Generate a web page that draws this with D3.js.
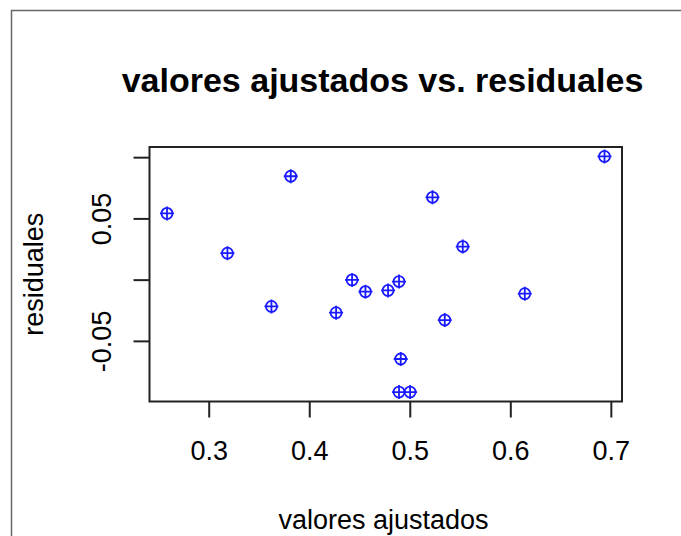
<!DOCTYPE html>
<html>
<head>
<meta charset="utf-8">
<script src="https://cdn.jsdelivr.net/npm/d3@7"></script>
<style>
  body { margin: 0; background: #fff; }
  svg { display: block; }
  text { font-family: "Liberation Sans", Arial, sans-serif; fill: #000; }
</style>
</head>
<body>
<div id="view"></div>
<script>
var fitted = [0.2585, 0.3186, 0.3624, 0.3816, 0.4267, 0.4426, 0.4559, 0.4784, 0.4893,
              0.4910, 0.4893, 0.5003, 0.5226, 0.5348, 0.5527, 0.6144, 0.6937];
var residuals = [0.0541, 0.0216, -0.0219, 0.0844, -0.0270, -0.0002, -0.0098, -0.0088, -0.0016,
                 -0.0648, -0.0918, -0.0918, 0.0672, -0.0330, 0.0270, -0.0115, 0.1006];
var xTicks = [0.3, 0.4, 0.5, 0.6, 0.7];
var yTicks = [-0.05, 0, 0.05, 0.1];
var yLabels = [-0.05, 0.05];

var points = fitted.map(function(d, i) { return {x: d, y: residuals[i]}; });

var width = 681, height = 536;
var box = {left: 149.5, right: 622, top: 147, bottom: 401.5};

var svg = d3.select("#view")
    .append("svg")
    .attr("width", width)
    .attr("height", height);

// screenshot frame (top and left edges only)
svg.append("path")
    .attr("d", "M11.5," + height + "V10.5H" + width)
    .attr("fill", "none")
    .attr("stroke", "#666")
    .attr("stroke-width", 1.5);

// R style 4% padding around the data range
function pad(ext) {
    var r = ext[1] - ext[0];
    return [ext[0] - r * 0.04, ext[1] + r * 0.04];
}

var x = d3.scaleLinear()
    .domain(pad(d3.extent(fitted)))
    .range([box.left, box.right]);

var y = d3.scaleLinear()
    .domain(pad(d3.extent(residuals)))
    .range([box.bottom, box.top]);

// R prints a plain hyphen for the minus sign
function rnum(f) {
    return function(d) { return d3.format(f)(d).replace("\u2212", "-"); };
}

var xAxis = svg.append("g")
    .attr("transform", "translate(0," + box.bottom + ")")
    .call(d3.axisBottom(x)
        .tickValues(xTicks)
        .tickSize(16)
        .tickPadding(23)
        .tickFormat(rnum(".1f")));

var yAxis = svg.append("g")
    .attr("transform", "translate(" + box.left + ",0)")
    .call(d3.axisLeft(y)
        .tickValues(yTicks)
        .tickSize(16)
        .tickFormat(function(d) { return yLabels.indexOf(d) >= 0 ? rnum(".2f")(d) : ""; }));

xAxis.select(".domain").remove();
yAxis.select(".domain").remove();

svg.selectAll(".tick line")
    .attr("stroke", "#222")
    .attr("stroke-width", 2);

xAxis.selectAll(".tick text")
    .attr("font-size", 27)
    .attr("font-family", "Liberation Sans, Arial, sans-serif")
    .attr("fill", "#111");

yAxis.selectAll(".tick text")
    .attr("font-size", 27)
    .attr("font-family", "Liberation Sans, Arial, sans-serif")
    .attr("fill", "#111")
    .attr("text-anchor", "middle")
    .attr("dy", null)
    .attr("x", null)
    .attr("transform", "translate(-39,0) rotate(-90)")
    .attr("y", 0);

// plot box
svg.append("rect")
    .attr("x", box.left)
    .attr("y", box.top)
    .attr("width", box.right - box.left)
    .attr("height", box.bottom - box.top)
    .attr("fill", "none")
    .attr("stroke", "#222")
    .attr("stroke-width", 2);

// pch 10 style symbols
var sym = svg.append("g")
    .selectAll("g")
    .data(points)
    .enter().append("g")
    .attr("transform", function(d) { return "translate(" + x(d.x) + "," + y(d.y) + ")"; })
    .attr("stroke", "#1a1aff")
    .attr("stroke-width", 1.8)
    .attr("fill", "none");

sym.append("circle").attr("r", 5.5);
sym.append("path").attr("d", "M-7,0H7M0,-7V7");

svg.append("text")
    .attr("x", 382.5)
    .attr("y", 92)
    .attr("text-anchor", "middle")
    .attr("font-size", 34)
    .attr("font-weight", "bold")
    .text("valores ajustados vs. residuales");

svg.append("text")
    .attr("x", 383.5)
    .attr("y", 529)
    .attr("text-anchor", "middle")
    .attr("font-size", 27)
    .attr("fill", "#111")
    .text("valores ajustados");

svg.append("text")
    .attr("transform", "translate(43," + (box.top + box.bottom) / 2 + ") rotate(-90)")
    .attr("text-anchor", "middle")
    .attr("font-size", 27)
    .attr("fill", "#111")
    .text("residuales");
</script>
</body>
</html>
